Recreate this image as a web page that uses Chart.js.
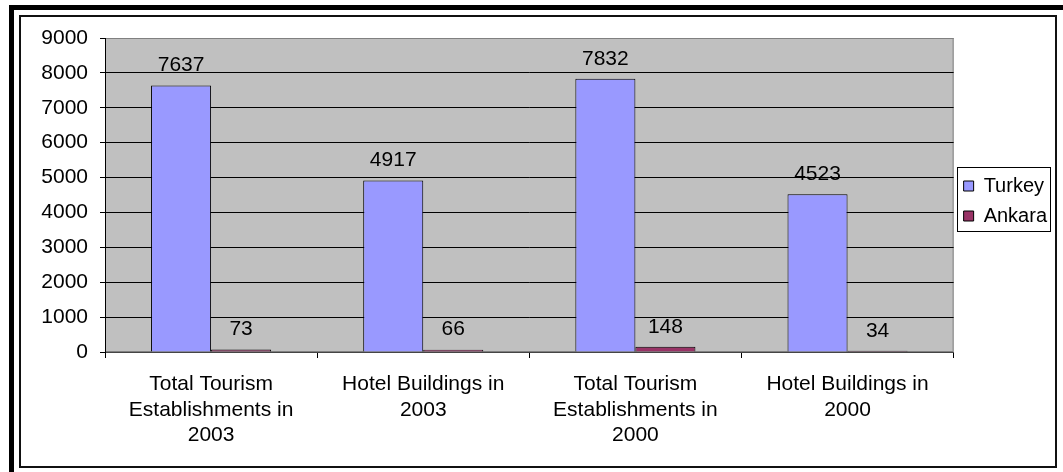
<!DOCTYPE html>
<html>
<head>
<meta charset="utf-8">
<script src="https://cdn.jsdelivr.net/npm/chart.js@4"></script>
<style>
  html, body { margin: 0; padding: 0; background: #fff; }
  body { width: 1063px; height: 472px; position: relative; overflow: hidden; }
  .bar-top { position: absolute; left: 9px; top: 5px; width: 1054px; height: 5px; background: #000; }
  .bar-left { position: absolute; left: 9px; top: 5px; width: 5px; height: 467px; background: #000; }
  .frame { position: absolute; left: 19px; top: 15px; width: 1034px; height: 449px; border: 2px solid #111; }
  #wrap { position: absolute; left: 0; top: 0; width: 1063px; height: 472px; }
</style>
</head>
<body>
<div class="bar-top"></div>
<div class="bar-left"></div>
<div class="frame"></div>
<div id="wrap"><canvas id="chart"></canvas></div>
<script>
const categories = [
    ['Total Tourism', 'Establishments in', '2003'],
    ['Hotel Buildings in', '2003'],
    ['Total Tourism', 'Establishments in', '2000'],
    ['Hotel Buildings in', '2000']
];
const turkey = [7637, 4917, 7832, 4523];
const ankara = [73, 66, 148, 34];
const yTicks = [0, 1000, 2000, 3000, 4000, 5000, 6000, 7000, 8000, 9000];

const FONT = "'Liberation Sans', Arial, sans-serif";
Chart.defaults.font.family = FONT;
Chart.defaults.color = '#000';

// gray plot background + border
const plotBg = {
    id: 'plotBg',
    beforeDraw(chart) {
        const a = chart.chartArea, c = chart.ctx;
        c.save();
        c.fillStyle = '#c0c0c0';
        c.fillRect(a.left, a.top, a.right - a.left, a.bottom - a.top);
        c.strokeStyle = '#808080';
        c.lineWidth = 1;
        c.strokeRect(a.left + 0.5, a.top + 0.5, a.right - a.left - 1, a.bottom - a.top - 1);
        c.restore();
    }
};

// value labels above bars
const valueLabels = {
    id: 'valueLabels',
    afterDatasetsDraw(chart) {
        const c = chart.ctx;
        c.save();
        c.font = '21px ' + FONT;
        c.fillStyle = '#000';
        c.textAlign = 'center';
        c.textBaseline = 'middle';
        chart.data.datasets.forEach((ds, i) => {
            chart.getDatasetMeta(i).data.forEach((el, j) => {
                c.fillText(String(ds.data[j]), el.x, el.y - 20);
            });
        });
        c.restore();
    }
};

// nudge the legend down a bit, then box it
const legendBox = {
    id: 'legendBox',
    afterLayout(chart) {
        const lg = chart.legend;
        if (lg) { lg.top += 6; lg.bottom += 6; }
    },
    afterDraw(chart) {
        const lg = chart.legend;
        if (!lg || !lg.legendHitBoxes.length) return;
        const hb = lg.legendHitBoxes;
        let x0 = Infinity, y0 = Infinity, x1 = -Infinity, y1 = -Infinity;
        hb.forEach(h => {
            x0 = Math.min(x0, h.left); y0 = Math.min(y0, h.top);
            x1 = Math.max(x1, h.left + h.width); y1 = Math.max(y1, h.top + h.height);
        });
        const c = chart.ctx;
        c.save();
        c.strokeStyle = '#000';
        c.lineWidth = 1;
        c.strokeRect(Math.round(x0 - 7) + 0.5, Math.round(y0 - 9) + 0.5,
            Math.round(x1 - x0 + 10), Math.round(y1 - y0 + 14));
        c.restore();
    }
};

new Chart(document.getElementById('chart'), {
    type: 'bar',
    data: {
        labels: categories,
        datasets: [
            { label: 'Turkey', data: turkey, backgroundColor: '#9999ff', borderColor: '#000', borderWidth: 1 },
            { label: 'Ankara', data: ankara, backgroundColor: '#993366', borderColor: '#000', borderWidth: 1 }
        ]
    },
    options: {
        responsive: true,
        maintainAspectRatio: false,
        animation: false,
        layout: { padding: { top: 38, right: 6, bottom: 0, left: 0 } },
        datasets: { bar: { categoryPercentage: 0.566, barPercentage: 1.0 } },
        scales: {
            x: {
                afterFit: s => { s.height = 120; },
                grid: { offset: true, drawOnChartArea: false, color: '#000', tickLength: 6 },
                border: { color: '#444', width: 1 },
                ticks: { font: { size: 21, lineHeight: 1.2 }, padding: 14, maxRotation: 0, autoSkip: false }
            },
            y: {
                min: 0, max: 9000,
                afterFit: s => { s.width = 105; },
                afterBuildTicks: s => { s.ticks = yTicks.map(v => ({ value: v })); },
                grid: {
                    color: c => (c.tick && c.tick.value === 9000 ? '#808080' : '#000'),
                    tickColor: '#000',
                    tickLength: 5
                },
                border: { color: '#000', width: 1 },
                ticks: { font: { size: 21 }, padding: 12, callback: v => String(v) }
            }
        },
        plugins: {
            legend: {
                position: 'right',
                fullSize: false,
                labels: {
                    boxWidth: 10, boxHeight: 10, padding: 10,
                    font: { size: 20 }, color: '#000'
                }
            },
            tooltip: { enabled: false }
        }
    },
    plugins: [plotBg, valueLabels, legendBox]
});
</script>
</body>
</html>
